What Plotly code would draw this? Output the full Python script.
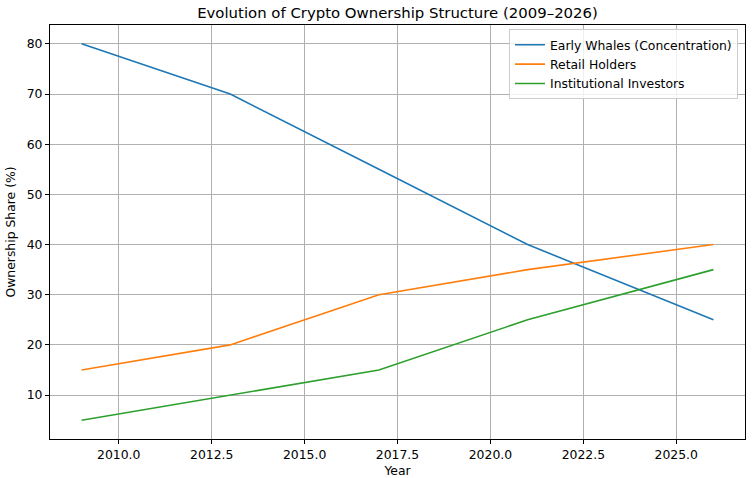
import plotly.graph_objects as go

years = [2009, 2013, 2017, 2021, 2026]
early_whales = [80, 70, 55, 40, 25]
retail_holders = [15, 20, 30, 35, 40]
institutional = [5, 10, 15, 25, 35]

x_ticks = [2010.0, 2012.5, 2015.0, 2017.5, 2020.0, 2022.5, 2025.0]
x_tick_labels = [f"{v:.1f}" for v in x_ticks]
y_ticks = [10, 20, 30, 40, 50, 60, 70, 80]

font = "DejaVu Sans"
fs = 12.4

fig = go.Figure()
fig.add_trace(go.Scatter(x=years, y=early_whales, mode="lines", name="Early Whales (Concentration)",
                         legendgroup="a", line=dict(color="#1f77b4", width=1.6)))
fig.add_trace(go.Scatter(x=years, y=retail_holders, mode="lines", name="Retail Holders",
                         legendgroup="b", line=dict(color="#ff7f0e", width=1.6)))
fig.add_trace(go.Scatter(x=years, y=institutional, mode="lines", name="Institutional Investors",
                         legendgroup="c", line=dict(color="#2ca02c", width=1.6)))

xmin, xmax = min(years), max(years)
xm = (xmax - xmin) * 0.05
allv = early_whales + retail_holders + institutional
ymin, ymax = min(allv), max(allv)
ym = (ymax - ymin) * 0.05

axis_common = dict(showline=True, linecolor="black", linewidth=1, mirror=True,
                   ticks="outside", ticklen=4, tickcolor="black", tickwidth=1,
                   showgrid=True, gridcolor="#b0b0b0", gridwidth=1, zeroline=False,
                   automargin=False,
                   tickfont=dict(family=font, size=fs, color="black"))

fig.update_layout(
    width=754, height=478,
    margin=dict(l=50, r=9, t=25, b=39),
    paper_bgcolor="white", plot_bgcolor="white",
    font=dict(family=font, size=fs, color="black"),
    title=dict(text="Evolution of Crypto Ownership Structure (2009–2026)", x=0.5, xanchor="center",
               xref="paper", y=1 - 13 / 478, yanchor="middle",
               font=dict(family=font, size=14.9, color="black")),
    xaxis=dict(range=[xmin - xm, xmax + xm], tickvals=x_ticks, ticktext=x_tick_labels,
               title=dict(text="Year", font=dict(family=font, size=fs), standoff=6), **axis_common),
    yaxis=dict(range=[ymin - ym, ymax + ym], tickvals=y_ticks,
               title=dict(text="Ownership Share (%)", font=dict(family=font, size=fs), standoff=8), **axis_common),
    legend=dict(x=0.9899, y=0.99, xanchor="right", yanchor="top",
                bgcolor="rgba(255,255,255,0.8)", bordercolor="#cccccc", borderwidth=1,
                font=dict(family=font, size=fs), tracegroupgap=0.3, itemwidth=30),
    showlegend=True,
)

fig.write_html("out.html", config={"displayModeBar": False},
               post_script="document.body.style.margin='0';document.body.style.overflow='hidden';")
